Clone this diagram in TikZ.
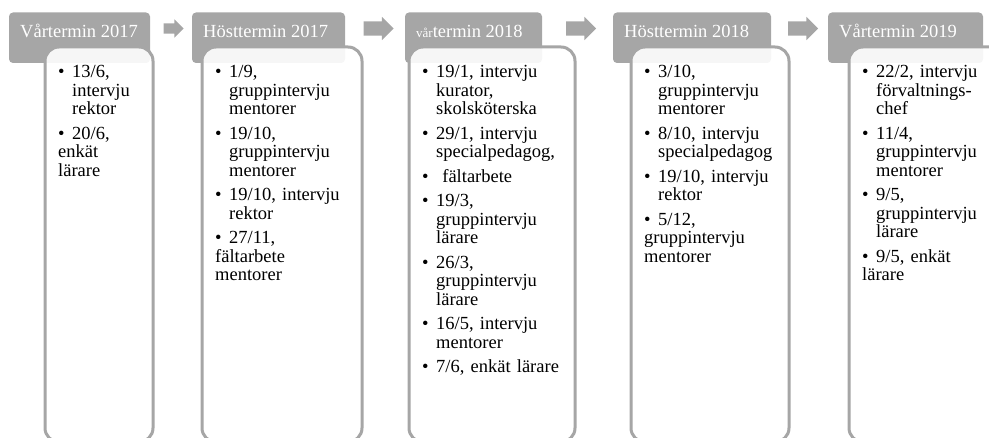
\documentclass[tikz,border=0pt]{standalone}
\usepackage{fontspec}
\setmainfont{Liberation Serif}
\usepackage{xcolor}
\usepackage{tikz}
\usetikzlibrary{positioning,calc,shapes.arrows}

\definecolor{termgray}{RGB}{166,166,166}
\newcommand{\itm}[1]{\par\addvspace{6pt}\noindent\hangindent=14pt\hangafter=1\makebox[14pt][l]{\textbullet}#1}

\tikzset{
  termhead/.style={fill=termgray, rounded corners=4pt, anchor=north west, minimum height=50.5pt, inner sep=0pt, outer sep=0pt},
  termlabel/.style={anchor=base west, text=white, font=\fontsize{18.5}{18.5}\selectfont, inner sep=0pt},
  termbox/.style={draw=termgray, line width=3pt, fill=white, fill opacity=0.9, rounded corners=14pt, anchor=north west, minimum height=395pt, inner sep=0pt, outer sep=0pt},
  termlist/.style={anchor=north west, inner sep=0pt, text width=150pt, font=\fontsize{18.5}{18.5}\selectfont},
  termarrow/.style={single arrow, fill=termgray, inner xsep=0pt, inner ysep=7pt, single arrow head extend=4.5pt, minimum height=30pt}
}

\begin{document}
\begin{tikzpicture}[x=1pt,y=-1pt]
\useasboundingbox (0,0) rectangle (989,438);

% Term headers
\foreach \i/\x/\w in {1/9/141, 2/192/153, 3/405/137, 4/613/158, 5/828/155}
    \node[termhead, minimum width=\w pt] (h\i) at (\x,12.5) {};

% Arrows between the headers
\node[termarrow, inner ysep=5pt, single arrow head extend=4pt, minimum height=20pt] (a1) at ($(h1.east)!0.5!(h2.west)+(0,-9.25)$) {};
\foreach \a/\b in {2/3, 3/4, 4/5}
    \node[termarrow] (a\a) at ($(h\a.east)!0.5!(h\b.west)+(0,-9.25)$) {};

% Content boxes
\foreach \i/\x/\w in {1/45/108, 2/202/160, 3/409/166, 4/631/158, 5/849/170}
    \node[termbox, minimum width=\w pt] (c\i) at (\x,47) {};

% Header labels
\foreach \i/\lab in {1/{Vårtermin 2017}, 2/{Hösttermin 2017}, 3/{{\fontsize{13}{13}\selectfont vår}termin 2018}, 4/{Hösttermin 2018}, 5/{Vårtermin 2019}}
    \node[termlabel] (t\i) at ([xshift=11pt,yshift=-25.5pt]h\i.north west) {\lab};

% Lists
\node[termlist] (l1) at ([xshift=13pt,yshift=-6pt]c1.north west)
    {\itm{13/6,\newline intervju\newline rektor}\itm{20/6,\newline enkät\newline lärare}};
\node[termlist] (l2) at ([xshift=13pt,yshift=-6pt]c2.north west)
    {\itm{1/9,\newline gruppintervju\newline mentorer}\itm{19/10,\newline gruppintervju\newline mentorer}\itm{19/10, intervju\newline rektor}\itm{27/11,\newline fältarbete\newline mentorer}};
\node[termlist] (l3) at ([xshift=13pt,yshift=-6pt]c3.north west)
    {\itm{19/1, intervju\newline kurator,\newline skolsköterska}\itm{29/1, intervju\newline specialpedagog,}\itm{\ fältarbete}\itm{19/3,\newline gruppintervju\newline lärare}\itm{26/3,\newline gruppintervju\newline lärare}\itm{16/5, intervju\newline mentorer}\itm{7/6, enkät lärare}};
\node[termlist] (l4) at ([xshift=13pt,yshift=-6pt]c4.north west)
    {\itm{3/10,\newline gruppintervju\newline mentorer}\itm{8/10, intervju\newline specialpedagog}\itm{19/10, intervju\newline rektor}\itm{5/12,\newline gruppintervju\newline mentorer}};
\node[termlist] (l5) at ([xshift=13pt,yshift=-6pt]c5.north west)
    {\itm{22/2, intervju\newline förvaltnings-\newline chef}\itm{11/4,\newline gruppintervju\newline mentorer}\itm{9/5,\newline gruppintervju\newline lärare}\itm{9/5, enkät\newline lärare}};
\end{tikzpicture}
\end{document}
